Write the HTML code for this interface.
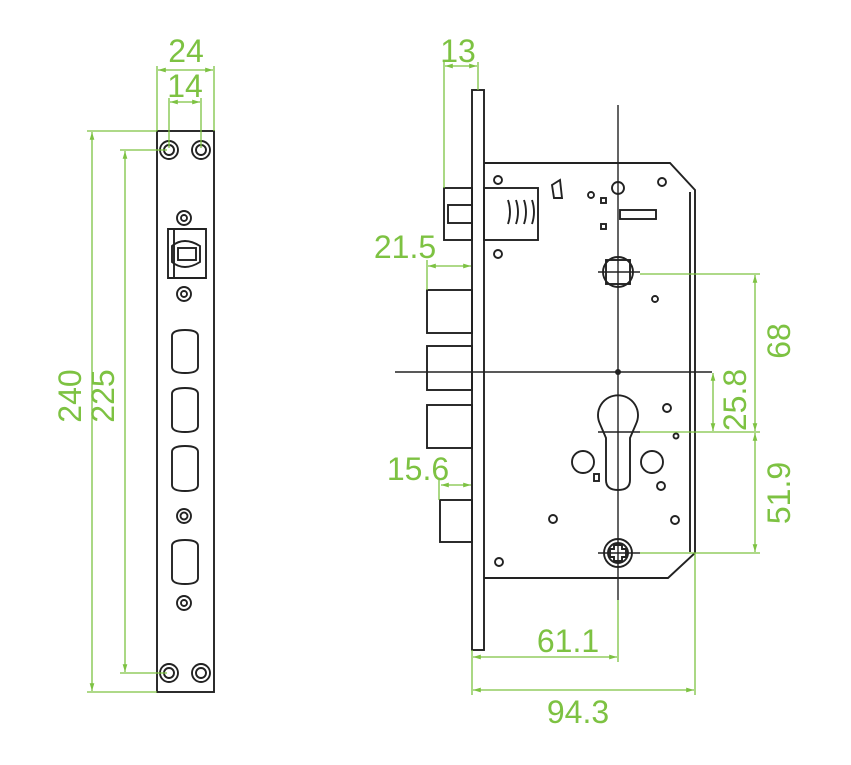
<!DOCTYPE html>
<html><head><style>html,body{margin:0;padding:0;background:#fff}svg{display:block}</style></head><body>
<svg width="851" height="765" viewBox="0 0 851 765" xmlns="http://www.w3.org/2000/svg">
<defs>
<marker id="a" viewBox="0 0 10 10" refX="10" refY="5" markerWidth="8" markerHeight="6" orient="auto-start-reverse"><path d="M0,2 L10,5 L0,8 z" fill="#7dc242"/></marker>
</defs>
<g fill="none" stroke="#222" stroke-width="1.9">
<rect x="157" y="131" width="57" height="561"/>
<circle cx="169" cy="150" r="9"/><circle cx="169" cy="150" r="5"/>
<circle cx="201" cy="150" r="9"/><circle cx="201" cy="150" r="5"/>
<circle cx="169" cy="673" r="9"/><circle cx="169" cy="673" r="5"/>
<circle cx="201" cy="673" r="9"/><circle cx="201" cy="673" r="5"/>
<circle cx="184" cy="218" r="7"/><circle cx="184" cy="218" r="3"/>
<circle cx="184" cy="294" r="7"/><circle cx="184" cy="294" r="3"/>
<circle cx="184" cy="516" r="7"/><circle cx="184" cy="516" r="3.5"/>
<circle cx="184" cy="603" r="7"/><circle cx="184" cy="603" r="3"/>
<path d="M168,229 H206 V278 H168 Z M174,229 V278 M172,246 Q184,236 200,246 V262 Q184,272 172,262 Z"/>
<rect x="178" y="248" width="18" height="12"/>
<path d="M172,336 Q172,330 185,330 Q198,330 198,336 V367 Q198,373 185,373 Q172,373 172,367 Z"/>
<path d="M172,394 Q172,388 185,388 Q198,388 198,394 V426 Q198,432 185,432 Q172,432 172,426 Z"/>
<path d="M172,452 Q172,446 185,446 Q198,446 198,452 V485 Q198,491 185,491 Q172,491 172,485 Z"/>
<path d="M172,546 Q172,540 185,540 Q198,540 198,546 V578 Q198,584 185,584 Q172,584 172,578 Z"/>
<rect x="472" y="90" width="12" height="560"/>
<path d="M484,163 H670 L695,190 V553 L668,578 H484"/>
<path d="M690,192 V552"/>
<rect x="444" y="188" width="28" height="52"/>
<rect x="448" y="205" width="24" height="18"/>
<rect x="484" y="188" width="54" height="52"/>
<path d="M508,200 Q512,212 508,224 M516,200 Q520,212 516,224 M524,200 Q528,212 524,224 M532,200 Q536,212 532,224"/>
<rect x="427" y="290" width="45" height="43"/>
<rect x="427" y="346" width="45" height="44"/>
<rect x="427" y="405" width="45" height="43"/>
<rect x="440" y="500" width="32" height="42"/>
<circle cx="498" cy="180" r="4"/><circle cx="498" cy="254" r="4"/>
<circle cx="662" cy="182" r="4"/><circle cx="667" cy="408" r="4"/>
<circle cx="675" cy="520" r="4"/><circle cx="553" cy="519" r="4"/>
<circle cx="499" cy="562" r="4"/>
<circle cx="618" cy="188" r="6"/><circle cx="591" cy="195" r="3"/>
<rect x="601" y="198" width="5" height="5"/><rect x="601" y="224" width="5" height="5"/>
<rect x="620" y="210" width="36" height="9"/>
<path d="M552,185 L560,180 L562,198 L554,198 Z"/>
<circle cx="655" cy="299" r="3"/><circle cx="661" cy="486" r="4"/><circle cx="676" cy="436" r="2.5"/>
<circle cx="618" cy="272" r="15"/><rect x="606" y="260" width="24" height="24"/>
<path d="M600,424 A20,20 0 1 1 636,424 L630,438 V480 Q630,490 618,490 Q606,490 606,480 V438 Z"/>
<circle cx="583" cy="462" r="11"/><circle cx="652" cy="462" r="11"/>
<rect x="594" y="474" width="5" height="7"/>
<circle cx="618" cy="553" r="14"/><circle cx="618" cy="553" r="10"/>
<path d="M614,545 H622 V549 H626 V557 H622 V561 H614 V557 H610 V549 H614 Z"/>
</g>
<g stroke="#222" stroke-width="1.4">
<line x1="618" y1="105" x2="618" y2="600"/>
<line x1="395" y1="372" x2="712" y2="372"/>
<line x1="598" y1="432" x2="640" y2="432"/>
<line x1="598" y1="553" x2="640" y2="553"/>
<line x1="598" y1="272" x2="640" y2="272"/>
</g>
<circle cx="618" cy="372" r="3" fill="#222"/>
<g stroke="#7dc242" stroke-width="1.3" fill="none">
<line x1="157" y1="66" x2="157" y2="131"/><line x1="214" y1="66" x2="214" y2="131"/>
<line x1="158" y1="70" x2="213" y2="70" marker-start="url(#a)" marker-end="url(#a)"/>
<line x1="169" y1="98" x2="169" y2="148"/><line x1="201" y1="98" x2="201" y2="148"/>
<line x1="170" y1="102" x2="200" y2="102" marker-start="url(#a)" marker-end="url(#a)"/>
<line x1="87" y1="131" x2="157" y2="131"/><line x1="87" y1="692" x2="157" y2="692"/>
<line x1="92" y1="132" x2="92" y2="691" marker-start="url(#a)" marker-end="url(#a)"/>
<line x1="120" y1="150" x2="167" y2="150"/><line x1="120" y1="673" x2="167" y2="673"/>
<line x1="125" y1="151" x2="125" y2="672" marker-start="url(#a)" marker-end="url(#a)"/>
<line x1="444" y1="62" x2="444" y2="188"/><line x1="478" y1="62" x2="478" y2="90"/>
<line x1="445" y1="66" x2="477" y2="66" marker-start="url(#a)" marker-end="url(#a)"/>
<line x1="427" y1="260" x2="427" y2="290"/>
<line x1="428" y1="266" x2="471" y2="266" marker-start="url(#a)" marker-end="url(#a)"/>
<line x1="439" y1="480" x2="439" y2="500"/>
<line x1="441" y1="485" x2="471" y2="485" marker-start="url(#a)" marker-end="url(#a)"/>
<line x1="640" y1="274" x2="760" y2="274"/><line x1="640" y1="432" x2="760" y2="432"/><line x1="640" y1="553" x2="760" y2="553"/>
<line x1="755" y1="275" x2="755" y2="431" marker-start="url(#a)" marker-end="url(#a)"/>
<line x1="755" y1="433" x2="755" y2="552" marker-start="url(#a)" marker-end="url(#a)"/>
<line x1="713" y1="373" x2="713" y2="431" marker-start="url(#a)" marker-end="url(#a)"/>
<line x1="472" y1="650" x2="472" y2="695"/><line x1="618" y1="600" x2="618" y2="662"/>
<line x1="695" y1="553" x2="695" y2="695"/>
<line x1="473" y1="657" x2="617" y2="657" marker-start="url(#a)" marker-end="url(#a)"/>
<line x1="473" y1="690" x2="694" y2="690" marker-start="url(#a)" marker-end="url(#a)"/>
</g>
<g fill="#7dc242" font-family="Liberation Sans, sans-serif" font-size="32" text-anchor="middle">
<text x="186" y="62">24</text>
<text x="185" y="97">14</text>
<text x="458" y="62">13</text>
<text x="405" y="258">21.5</text>
<text x="418" y="480">15.6</text>
<text x="568" y="652">61.1</text>
<text x="578" y="723">94.3</text>
<text transform="translate(81,396) rotate(-90)">240</text>
<text transform="translate(114,396) rotate(-90)">225</text>
<text transform="translate(790,341) rotate(-90)">68</text>
<text transform="translate(746,400) rotate(-90)">25.8</text>
<text transform="translate(790,493) rotate(-90)">51.9</text>
</g>
</svg>
</body></html>
